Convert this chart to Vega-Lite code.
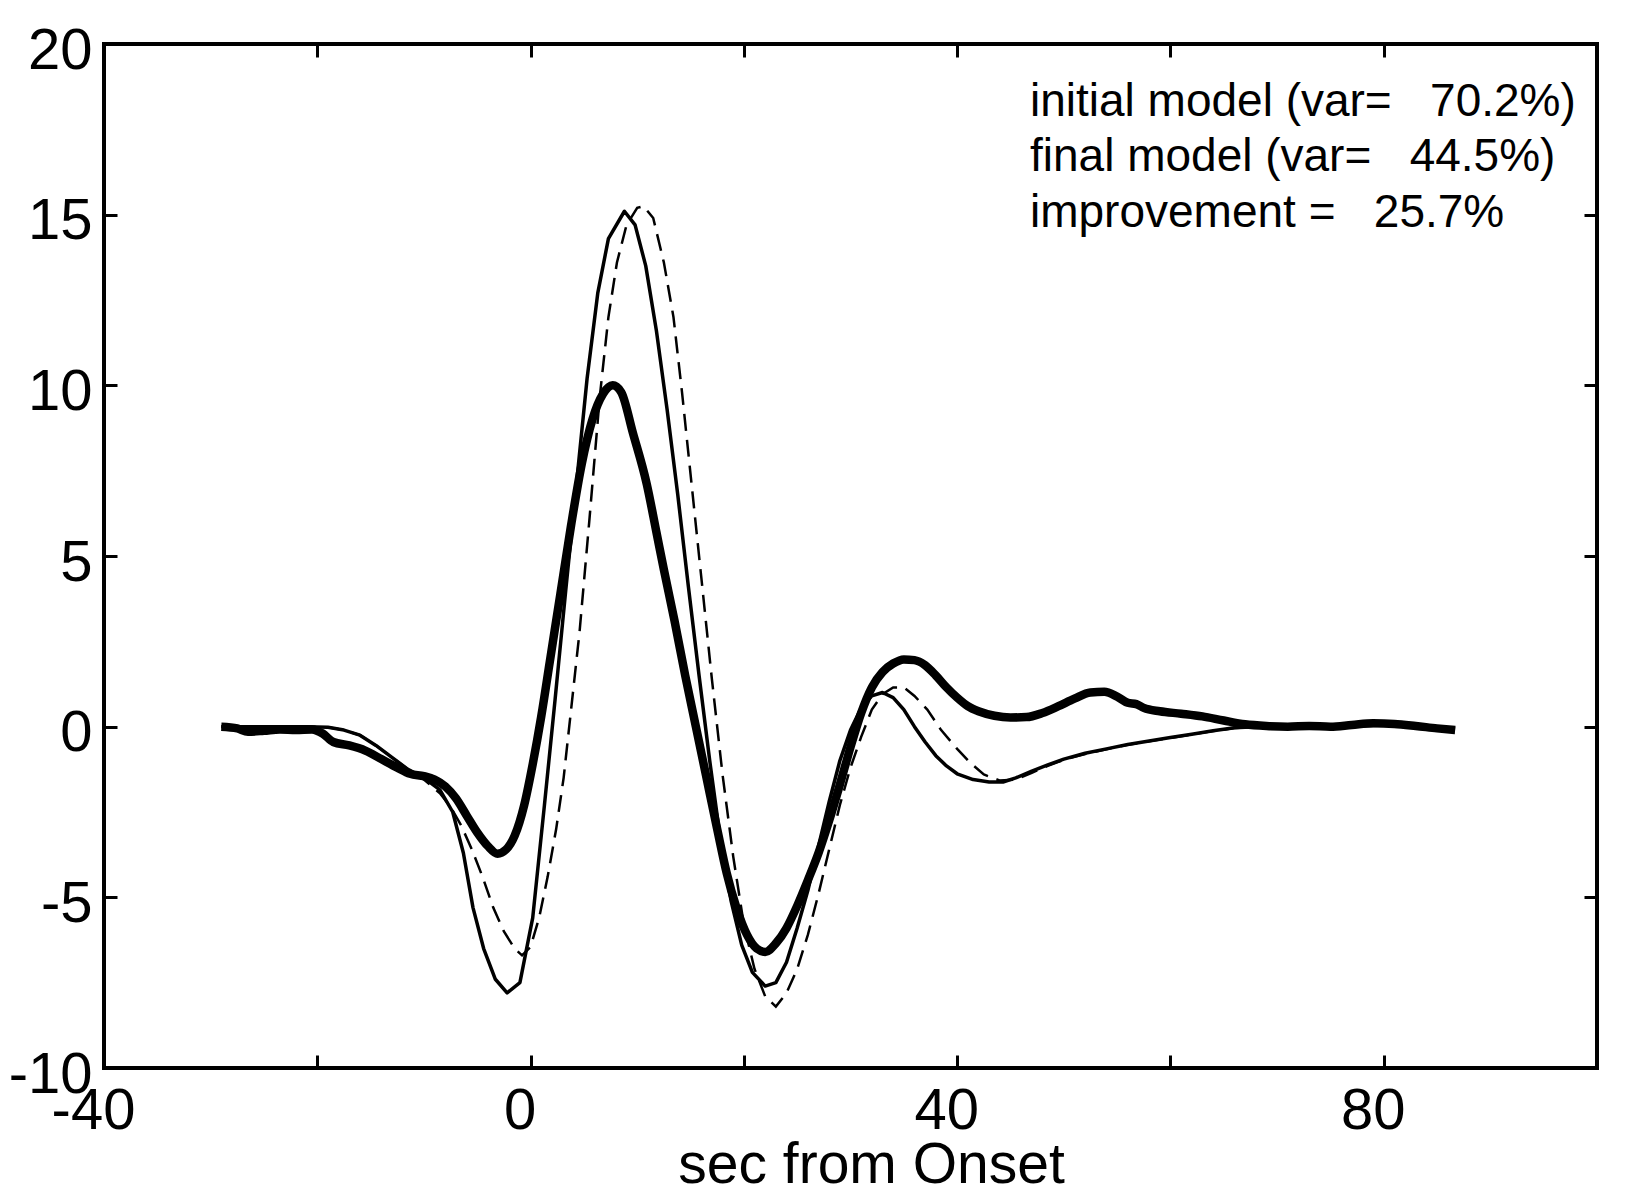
{
  "$schema": "https://vega.github.io/schema/vega-lite/v6.json",
  "autosize": {"type": "none"},
  "width": 1493,
  "height": 1024,
  "padding": {"left": 104, "top": 44, "right": 29, "bottom": 127},
  "background": "white",
  "config": {
    "view": {"stroke": "black", "strokeWidth": 4},
    "font": "Liberation Sans"
  },
  "datasets": {
    "thick": [
      {"t": -29, "v": 0}, {"t": -27.5, "v": -0.05}, {"t": -26.5, "v": -0.15}, {"t": -25, "v": -0.12}, {"t": -23.5, "v": -0.08},
      {"t": -22, "v": -0.1}, {"t": -20.5, "v": -0.08}, {"t": -19.5, "v": -0.2}, {"t": -18.5, "v": -0.45}, {"t": -17, "v": -0.55},
      {"t": -15.5, "v": -0.7}, {"t": -14, "v": -0.95}, {"t": -12.5, "v": -1.2}, {"t": -11.3, "v": -1.38}, {"t": -10, "v": -1.45},
      {"t": -9, "v": -1.55}, {"t": -8, "v": -1.75}, {"t": -7, "v": -2.1}, {"t": -6, "v": -2.6}, {"t": -5, "v": -3.1},
      {"t": -4, "v": -3.5}, {"t": -3.1, "v": -3.72}, {"t": -2.3, "v": -3.6}, {"t": -1.5, "v": -3.2}, {"t": -0.6, "v": -2.3},
      {"t": 0.2, "v": -1.1}, {"t": 1.0, "v": 0.3}, {"t": 1.8, "v": 1.9}, {"t": 2.8, "v": 3.9}, {"t": 3.8, "v": 5.9},
      {"t": 4.8, "v": 7.7}, {"t": 5.8, "v": 9.0}, {"t": 6.8, "v": 9.75}, {"t": 7.7, "v": 10.0}, {"t": 8.5, "v": 9.8},
      {"t": 9.6, "v": 8.6}, {"t": 10.9, "v": 7.1}, {"t": 11.8, "v": 5.7}, {"t": 12.5, "v": 4.6}, {"t": 13.5, "v": 3.1},
      {"t": 14.5, "v": 1.5}, {"t": 15.5, "v": 0.0}, {"t": 16.5, "v": -1.5}, {"t": 17.5, "v": -3.0}, {"t": 18.4, "v": -4.3},
      {"t": 19.3, "v": -5.3}, {"t": 20.3, "v": -6.1}, {"t": 21.2, "v": -6.5}, {"t": 22.0, "v": -6.6}, {"t": 23.0, "v": -6.35},
      {"t": 24.0, "v": -5.9}, {"t": 25.0, "v": -5.25}, {"t": 26.0, "v": -4.5}, {"t": 27.0, "v": -3.7}, {"t": 28.0, "v": -2.75},
      {"t": 29.0, "v": -1.7}, {"t": 30.0, "v": -0.6}, {"t": 31.0, "v": 0.4}, {"t": 32.0, "v": 1.15}, {"t": 33.0, "v": 1.6},
      {"t": 34.0, "v": 1.85}, {"t": 35.0, "v": 1.97}, {"t": 36.0, "v": 1.95}, {"t": 37.0, "v": 1.8}, {"t": 38.0, "v": 1.5},
      {"t": 39.0, "v": 1.15}, {"t": 40.0, "v": 0.85}, {"t": 41.0, "v": 0.6}, {"t": 42.0, "v": 0.45}, {"t": 43.5, "v": 0.32},
      {"t": 45.0, "v": 0.27}, {"t": 46.5, "v": 0.28}, {"t": 48.0, "v": 0.4}, {"t": 49.5, "v": 0.6}, {"t": 51.0, "v": 0.82},
      {"t": 52.5, "v": 1.0}, {"t": 53.8, "v": 1.02}, {"t": 55.0, "v": 0.88}, {"t": 56.0, "v": 0.7}, {"t": 56.8, "v": 0.66},
      {"t": 57.5, "v": 0.55}, {"t": 59.0, "v": 0.45}, {"t": 61.0, "v": 0.38}, {"t": 63.0, "v": 0.3}, {"t": 65.0, "v": 0.18},
      {"t": 67.0, "v": 0.07}, {"t": 69.0, "v": 0.02}, {"t": 71.0, "v": 0.0}, {"t": 73.0, "v": 0.02}, {"t": 75.0, "v": 0.0},
      {"t": 77.0, "v": 0.05}, {"t": 79.0, "v": 0.1}, {"t": 81.0, "v": 0.08}, {"t": 83.0, "v": 0.02}, {"t": 85.0, "v": -0.05},
      {"t": 86.7, "v": -0.1}
    ],
    "thin": [
      {"t": -29, "v": 0}, {"t": -25, "v": 0}, {"t": -21, "v": 0}, {"t": -19, "v": -0.02}, {"t": -17.5, "v": -0.1},
      {"t": -16, "v": -0.25}, {"t": -14.5, "v": -0.55}, {"t": -13, "v": -0.9}, {"t": -11.5, "v": -1.25}, {"t": -10, "v": -1.5},
      {"t": -8.5, "v": -1.85}, {"t": -7.3, "v": -2.5}, {"t": -6.3, "v": -3.7}, {"t": -5.4, "v": -5.3}, {"t": -4.4, "v": -6.5},
      {"t": -3.3, "v": -7.4}, {"t": -2.2, "v": -7.8}, {"t": -1.0, "v": -7.5}, {"t": 0.2, "v": -5.6}, {"t": 1.3, "v": -2.3},
      {"t": 2.3, "v": 0.8}, {"t": 3.3, "v": 4.0}, {"t": 4.3, "v": 7.1}, {"t": 5.3, "v": 10.2}, {"t": 6.3, "v": 12.7},
      {"t": 7.3, "v": 14.3}, {"t": 8.8, "v": 15.1}, {"t": 9.8, "v": 14.7}, {"t": 10.8, "v": 13.5}, {"t": 11.8, "v": 11.6},
      {"t": 12.8, "v": 9.3}, {"t": 13.8, "v": 6.8}, {"t": 14.8, "v": 4.1}, {"t": 15.8, "v": 1.5}, {"t": 16.8, "v": -1.0},
      {"t": 17.8, "v": -3.3}, {"t": 18.8, "v": -5.1}, {"t": 19.8, "v": -6.4}, {"t": 20.8, "v": -7.2}, {"t": 22.0, "v": -7.6},
      {"t": 23.0, "v": -7.5}, {"t": 24.0, "v": -6.9}, {"t": 25.0, "v": -5.9}, {"t": 26.0, "v": -4.8}, {"t": 27.0, "v": -3.5},
      {"t": 28.0, "v": -2.2}, {"t": 29.0, "v": -1.0}, {"t": 30.0, "v": -0.1}, {"t": 31.0, "v": 0.55}, {"t": 32.0, "v": 0.9},
      {"t": 33.0, "v": 1.0}, {"t": 34.0, "v": 0.85}, {"t": 35.0, "v": 0.5}, {"t": 36.0, "v": 0.0}, {"t": 37.0, "v": -0.45},
      {"t": 38.0, "v": -0.85}, {"t": 39.0, "v": -1.15}, {"t": 40.0, "v": -1.38}, {"t": 41.5, "v": -1.55}, {"t": 43.0, "v": -1.62},
      {"t": 44.3, "v": -1.62}, {"t": 45.5, "v": -1.5}, {"t": 47.0, "v": -1.3}, {"t": 48.5, "v": -1.12}, {"t": 50.0, "v": -0.95},
      {"t": 52.0, "v": -0.78}, {"t": 54.0, "v": -0.65}, {"t": 56.0, "v": -0.52}, {"t": 58.0, "v": -0.42}, {"t": 60.0, "v": -0.32},
      {"t": 62.0, "v": -0.22}, {"t": 64.0, "v": -0.12}, {"t": 66.0, "v": -0.03}, {"t": 68.0, "v": 0.0}, {"t": 72, "v": 0},
      {"t": 76, "v": 0}, {"t": 80, "v": 0.05}, {"t": 84, "v": 0}, {"t": 86.7, "v": -0.05}
    ],
    "dashed": [
      {"t": -29, "v": 0}, {"t": -21, "v": 0}, {"t": -19, "v": -0.02}, {"t": -17.5, "v": -0.1}, {"t": -16, "v": -0.25},
      {"t": -14.5, "v": -0.55}, {"t": -13, "v": -0.9}, {"t": -11.5, "v": -1.25}, {"t": -10, "v": -1.55}, {"t": -8.5, "v": -1.95},
      {"t": -7.5, "v": -2.35}, {"t": -6.5, "v": -2.9}, {"t": -5.5, "v": -3.6}, {"t": -4.5, "v": -4.4}, {"t": -3.5, "v": -5.3},
      {"t": -2.5, "v": -6.0}, {"t": -1.5, "v": -6.5}, {"t": -0.8, "v": -6.7}, {"t": 0.0, "v": -6.45}, {"t": 0.8, "v": -5.6},
      {"t": 1.6, "v": -4.4}, {"t": 2.4, "v": -3.0}, {"t": 3.1, "v": -1.5}, {"t": 3.8, "v": 0.5}, {"t": 4.6, "v": 2.8},
      {"t": 5.5, "v": 6.0}, {"t": 6.5, "v": 9.7}, {"t": 7.3, "v": 12.0}, {"t": 8.1, "v": 13.6}, {"t": 9.0, "v": 14.7},
      {"t": 10.0, "v": 15.2}, {"t": 10.6, "v": 15.25}, {"t": 11.5, "v": 14.9}, {"t": 12.5, "v": 13.6}, {"t": 13.4, "v": 12.0},
      {"t": 14.2, "v": 9.8}, {"t": 15.0, "v": 7.4}, {"t": 16.0, "v": 4.4}, {"t": 17.0, "v": 1.4}, {"t": 18.0, "v": -1.4},
      {"t": 19.0, "v": -3.8}, {"t": 20.0, "v": -5.8}, {"t": 21.0, "v": -7.1}, {"t": 22.0, "v": -7.9}, {"t": 23.0, "v": -8.2},
      {"t": 24.0, "v": -7.8}, {"t": 25.0, "v": -7.1}, {"t": 26.0, "v": -6.1}, {"t": 27.0, "v": -4.9}, {"t": 28.0, "v": -3.6},
      {"t": 29.0, "v": -2.3}, {"t": 30.0, "v": -1.2}, {"t": 31.0, "v": -0.3}, {"t": 32.0, "v": 0.5}, {"t": 33.0, "v": 0.95},
      {"t": 34.0, "v": 1.15}, {"t": 35.0, "v": 1.15}, {"t": 36.0, "v": 0.9}, {"t": 37.2, "v": 0.5}, {"t": 38.5, "v": -0.1},
      {"t": 40.0, "v": -0.65}, {"t": 41.2, "v": -1.05}, {"t": 42.5, "v": -1.4}, {"t": 44.0, "v": -1.58}, {"t": 45.5, "v": -1.55},
      {"t": 47.0, "v": -1.35}, {"t": 48.5, "v": -1.15}, {"t": 50.0, "v": -0.97}, {"t": 52.0, "v": -0.8}, {"t": 54.0, "v": -0.66},
      {"t": 56.0, "v": -0.53}, {"t": 58.0, "v": -0.43}, {"t": 60.0, "v": -0.33}, {"t": 62.0, "v": -0.23}, {"t": 64.0, "v": -0.13},
      {"t": 66.0, "v": -0.04}, {"t": 68.0, "v": 0.0}, {"t": 72, "v": 0}, {"t": 76, "v": 0}, {"t": 80, "v": 0.05},
      {"t": 84, "v": 0}, {"t": 86.7, "v": -0.05}
    ],
    "notes": [{"id": 1}]
  },
  "layer": [
    {
      "mark": {"type": "rule", "color": "#555555", "strokeWidth": 1.5, "strokeDash": [7, 7]},
      "encoding": {
        "y": {"datum": 0, "type": "quantitative", "scale": {"domain": [-10, 20], "nice": false, "zero": false}, "axis": null}
      }
    },
    {
      "data": {"name": "thin"},
      "mark": {"type": "line", "color": "black", "strokeWidth": 3.5, "strokeJoin": "round"},
      "encoding": {
        "x": {
          "field": "t", "type": "quantitative",
          "scale": {"domain": [-40, 100], "nice": false, "zero": false},
          "axis": {
            "orient": "bottom", "values": [-40, -20, 0, 20, 40, 60, 80, 100],
            "labelExpr": "(datum.value == -40 || datum.value == 0 || datum.value == 40 || datum.value == 80) ? toString(datum.value) : ''",
            "domain": false, "grid": false,
            "ticks": true, "tickSize": -13, "tickWidth": 3, "tickColor": "black",
            "labelFont": "Liberation Sans", "labelFontSize": 58, "labelColor": "black",
            "labelBaseline": "top", "labelPadding": 27, "labelOffset": -11,
            "labelFlush": false, "labelOverlap": false, "labelBound": false,
            "title": "sec from Onset", "titleFont": "Liberation Sans", "titleFontSize": 57,
            "titleFontWeight": "normal", "titleColor": "black",
            "titleX": 767, "titleY": 114, "titleAlign": "center", "titleBaseline": "alphabetic"
          }
        },
        "y": {
          "field": "v", "type": "quantitative",
          "scale": {"domain": [-10, 20], "nice": false, "zero": false},
          "axis": {
            "orient": "left", "values": [-10, -5, 0, 5, 10, 15, 20],
            "labelExpr": "toString(datum.value)",
            "domain": false, "grid": false,
            "ticks": true, "tickSize": -13, "tickWidth": 3, "tickColor": "black",
            "labelFont": "Liberation Sans", "labelFontSize": 58, "labelColor": "black",
            "labelBaseline": "middle", "labelPadding": 25, "labelOffset": 7,
            "labelFlush": false, "labelOverlap": false, "labelBound": false,
            "title": null
          }
        }
      }
    },
    {
      "data": {"name": "dashed"},
      "mark": {"type": "line", "color": "black", "strokeWidth": 2.5, "strokeDash": [17, 9]},
      "encoding": {
        "x": {
          "field": "t", "type": "quantitative",
          "scale": {"domain": [-40, 100], "nice": false, "zero": false},
          "axis": {
            "orient": "top", "values": [-20, 0, 20, 40, 60, 80],
            "labels": false, "domain": false, "grid": false,
            "ticks": true, "tickSize": -13, "tickWidth": 3, "tickColor": "black", "title": null
          }
        },
        "y": {
          "field": "v", "type": "quantitative",
          "scale": {"domain": [-10, 20], "nice": false, "zero": false},
          "axis": {
            "orient": "right", "values": [-5, 0, 5, 10, 15],
            "labels": false, "domain": false, "grid": false,
            "ticks": true, "tickSize": -13, "tickWidth": 3, "tickColor": "black", "title": null
          }
        }
      }
    },
    {
      "data": {"name": "thick"},
      "mark": {"type": "line", "color": "black", "strokeWidth": 8.5, "strokeJoin": "round", "interpolate": "monotone"},
      "encoding": {
        "x": {"field": "t", "type": "quantitative", "scale": {"domain": [-40, 100], "nice": false, "zero": false}, "axis": null},
        "y": {"field": "v", "type": "quantitative", "scale": {"domain": [-10, 20], "nice": false, "zero": false}, "axis": null}
      }
    },
    {
      "data": {"name": "notes"},
      "mark": {
        "type": "text", "align": "left", "baseline": "alphabetic",
        "font": "Liberation Sans", "fontSize": 46, "lineHeight": 55.5, "color": "black"
      },
      "encoding": {
        "text": {"value": ["initial model (var=\u00a0\u00a0 70.2%)", "final model (var=\u00a0\u00a0 44.5%)", "improvement =\u00a0\u00a0 25.7%"]},
        "x": {"datum": 46.83, "type": "quantitative", "scale": {"domain": [-40, 100], "nice": false, "zero": false}, "axis": null},
        "y": {"datum": 17.9, "type": "quantitative", "scale": {"domain": [-10, 20], "nice": false, "zero": false}, "axis": null}
      }
    }
  ],
  "resolve": {"axis": {"x": "independent", "y": "independent"}}
}
